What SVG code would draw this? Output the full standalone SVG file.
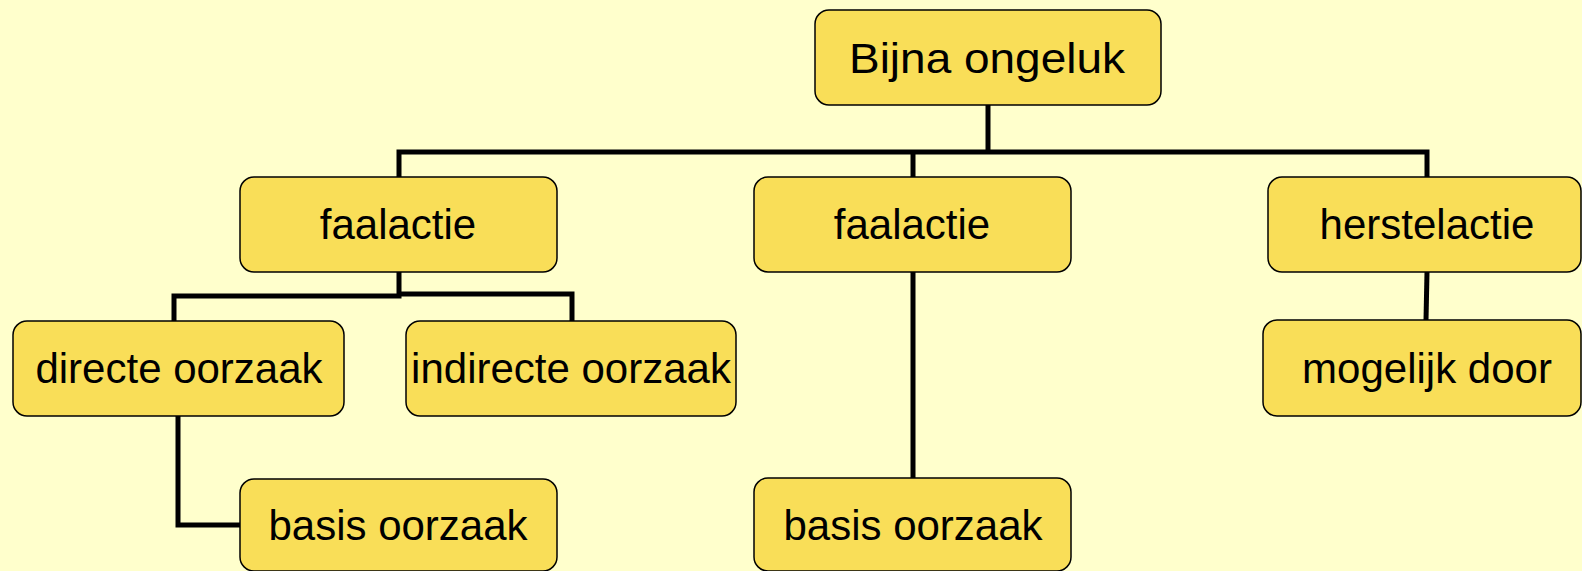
<svg xmlns="http://www.w3.org/2000/svg" width="1582" height="571" viewBox="0 0 1582 571">
<style>
.box{fill:#F9DE58;stroke:#000;stroke-width:1.5}
.lbl{font-family:"Liberation Sans",Arial,sans-serif;font-size:42px;fill:#000;text-anchor:middle}
.con{fill:none;stroke:#000;stroke-width:5}
</style>
<rect x="0" y="0" width="1582" height="571" fill="#FFFFCC"/>
<g id="connectors">
<polyline class="con" points="988,105 988,152"/>
<polyline class="con" points="399,177 399,152 1427,152 1427,177"/>
<polyline class="con" points="913,152 913,177"/>
<polyline class="con" points="399,272 399,296 174,296 174,321"/>
<polyline class="con" points="399,294 572,294 572,321"/>
<polyline class="con" points="913,272 913,478"/>
<polyline class="con" points="1427,272 1426,320"/>
<polyline class="con" points="178,416 178,525 240,525"/>
</g>
<g id="n-bijna"><rect class="box" x="815" y="10" width="346" height="95" rx="14"/><text class="lbl" x="987" y="73" textLength="276" lengthAdjust="spacingAndGlyphs">Bijna ongeluk</text></g>
<g id="n-faal1"><rect class="box" x="240" y="177" width="317" height="95" rx="14"/><text class="lbl" x="398" y="239">faalactie</text></g>
<g id="n-faal2"><rect class="box" x="754" y="177" width="317" height="95" rx="14"/><text class="lbl" x="912" y="239">faalactie</text></g>
<g id="n-herstel"><rect class="box" x="1268" y="177" width="313" height="95" rx="14"/><text class="lbl" x="1427" y="239">herstelactie</text></g>
<g id="n-directe"><rect class="box" x="13" y="321" width="331" height="95" rx="14"/><text class="lbl" x="179" y="383">directe oorzaak</text></g>
<g id="n-indirecte"><rect class="box" x="406" y="321" width="330" height="95" rx="14"/><text class="lbl" x="571" y="383">indirecte oorzaak</text></g>
<g id="n-mogelijk"><rect class="box" x="1263" y="320" width="318" height="96" rx="14"/><text class="lbl" x="1427" y="383">mogelijk door</text></g>
<g id="n-basis1"><rect class="box" x="240" y="479" width="317" height="92" rx="14"/><text class="lbl" x="398" y="540">basis oorzaak</text></g>
<g id="n-basis2"><rect class="box" x="754" y="478" width="317" height="93" rx="14"/><text class="lbl" x="913" y="540">basis oorzaak</text></g>
</svg>
